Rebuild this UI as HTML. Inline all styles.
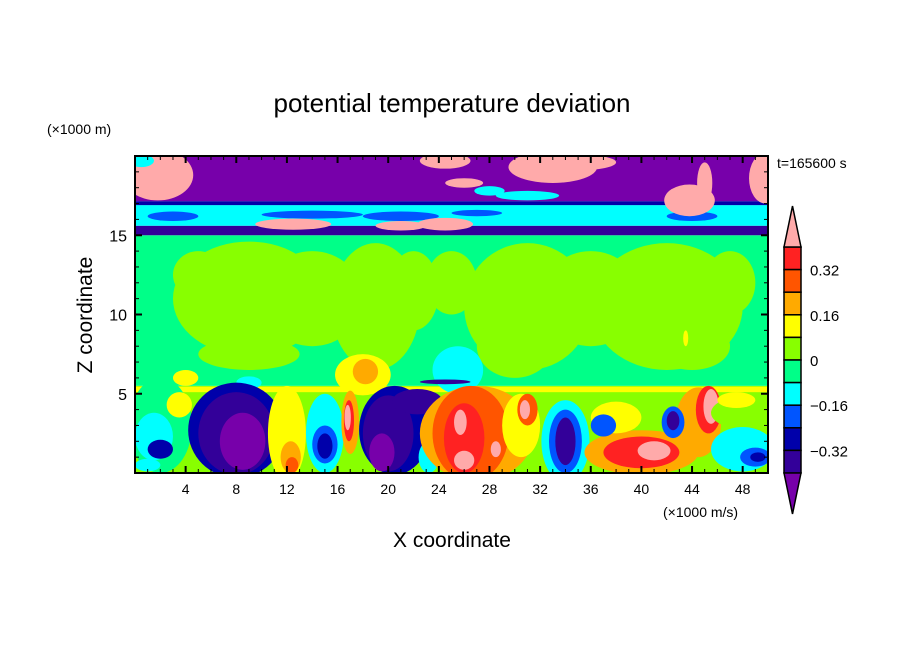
<!DOCTYPE html>
<html><head><meta charset="utf-8"><style>
body{margin:0;background:#fff;}
svg{display:block;font-family:"Liberation Sans",sans-serif;}
</style></head><body>
<svg id="chart" width="904" height="654" viewBox="0 0 904 654">
<defs><clipPath id="pc"><rect x="135" y="156" width="633" height="317"/></clipPath></defs>
<g id="field" clip-path="url(#pc)"></g>
<rect x="135" y="156" width="633" height="317" fill="none" stroke="#000" stroke-width="2"/>
<g id="axes"></g>
<g id="cbar"></g>
<text x="452" y="112" font-size="26" text-anchor="middle">potential temperature deviation</text>
<text x="47" y="134" font-size="14">(×1000 m)</text>
<text x="777" y="168" font-size="14">t=165600 s</text>
<text x="452" y="547" font-size="21" text-anchor="middle">X coordinate</text>
<text x="92" y="315" font-size="21" text-anchor="middle" transform="rotate(-90 92 315)">Z coordinate</text>
<text x="663" y="517" font-size="14">(×1000 m/s)</text>
</svg>
<script>
const levelColors=["#ffaaaa","#ff2222","#ff5500","#ffaa00","#ffff00","#88ff00","#00ff88","#00ffff","#0055ff","#0000aa","#330099","#7700aa"];
const cbarLabels=["0.32","0.16","0","−0.16","−0.32"];
const xTicks=[4,8,12,16,20,24,28,32,36,40,44,48];
const yTicks=[5,10,15];
// bands: [z0, z1, level]
const bands=[[0,5.5,5],[5.1,5.45,4],[5.5,15,6],[15,15.6,10],[15.6,16.9,7],[16.9,17.15,9],[17.15,20,11]];
// blobs: [cx, cz, rx, rz, level] in data units (km)
const blobs=[
[3,16.2,2,0.3,8],[14,16.3,4,0.25,8],[21,16.2,3,0.3,8],[27,16.4,2,0.2,8],[44,16.2,2,0.3,8],
[12.5,15.7,3,0.35,0],[21,15.6,2,0.3,0],[24.5,15.7,2.2,0.4,0],
[1.8,18.8,2.8,1.6,0],[0.5,19.7,1,0.4,7],[24.5,19.7,2,0.5,0],[33,19.3,3.5,1.0,0],[35,19.6,3,0.5,0],
[26,18.3,1.5,0.3,0],[28,17.8,1.2,0.3,7],[31,17.5,2.5,0.3,7],[43.8,17.2,2,1.0,0],[45,18.3,0.6,1.3,0],
[49.8,18.6,1.3,1.6,0],[34.5,16.3,2.5,0.25,7],
[9,11,6,3.6,5],[19,10.5,3.5,4,5],[31,10.5,5,4,5],[42,10.5,6,4,5],[25,12,2,2,5],[30,8,3,2,5],[44,8,3,1.5,5],[9,7.5,4,1,5],
[14,11,4,3,5],[36,11,4,3,5],[22,11.5,2,2.5,5],[5,12.5,2,1.5,5],[47,12,2,2,5],
[18,6.2,2.2,1.3,4],[18.2,6.4,1,0.8,3],[4,6,1,0.5,4],[9,5.7,1,0.4,7],[25.5,6.5,2,1.5,7],[24.5,5.75,2,0.15,10],[43.5,8.5,0.2,0.5,4],
[2,3,2.5,3,6],[1.5,2.3,1.5,1.5,7],[2,1.5,1,0.6,9],[1,0.5,1,0.4,7],[3.5,4.3,1,0.8,4],
[8,2.7,3.8,3,9],[8,2.5,3,2.6,10],[8.5,2,1.8,1.8,11],
[12,2.5,1.5,3,4],[12.3,1,0.8,1,3],[12.4,0.5,0.5,0.5,2],
[15,2.5,1.5,2.5,7],[15,1.8,1,1.2,8],[15,1.7,0.6,0.8,9],
[17,3.2,0.7,2,3],[16.9,3.3,0.4,1.3,1],[16.8,3.5,0.25,0.8,0],
[20.5,2.7,2.8,2.8,9],[20,2.5,2,2.4,10],[19.5,1.3,1,1.2,11],[22.3,4.5,2,0.8,10],
[23.2,1,0.8,1,7],
[27,2.5,4.5,3,3],[26.5,2.5,3,3,2],[26,2.2,1.6,2.2,1],[25.7,3.2,0.5,0.8,0],[26,0.8,0.8,0.6,0],[28.5,1.5,0.4,0.5,0],
[30.5,3,1.5,2,4],[31,4,0.8,1,2],[30.8,4,0.4,0.6,0],
[34,2,1.9,2.6,7],[34,2,1.3,2,8],[34,2,0.8,1.5,10],
[40,1.3,4.5,1.4,3],[40,1.3,3,1,1],[41,1.4,1.3,0.6,0],[38,3.5,2,1,4],
[44.5,3.2,1.8,2.2,3],[45.3,4,1,1.5,1],[45.5,4.2,0.6,1.1,0],[42.5,3.2,0.9,1,8],[42.5,3.3,0.5,0.6,10],[37,3,1,0.7,8],
[48,3.8,2.5,1,5],[48,1.5,2.5,1.4,7],[49,1,1.2,0.6,8],[49.2,1,0.6,0.3,9],[47.5,4.6,1.5,0.5,4]
];
const X0=135,X1=768,Y0=473,Y1=156;
const sx=v=>X0+v*(X1-X0)/50;
const sy=v=>Y0-v*(Y0-Y1)/20;
const NS="http://www.w3.org/2000/svg";
const field=document.getElementById('field');
bands.forEach(b=>{
  const r=document.createElementNS(NS,'rect');
  r.setAttribute('x',X0);r.setAttribute('width',X1-X0);
  r.setAttribute('y',sy(b[1]));r.setAttribute('height',sy(b[0])-sy(b[1]));
  r.setAttribute('fill',levelColors[b[2]]);
  
  
  field.appendChild(r);
});
blobs.forEach(b=>{
  const e=document.createElementNS(NS,'ellipse');
  e.setAttribute('cx',sx(b[0]));e.setAttribute('cy',sy(b[1]));
  e.setAttribute('rx',b[2]*(X1-X0)/50);e.setAttribute('ry',b[3]*(Y0-Y1)/20);
  e.setAttribute('fill',levelColors[b[4]]);
  
  
  field.appendChild(e);
});
const axes=document.getElementById('axes');
function line(x1,y1,x2,y2,w){const l=document.createElementNS(NS,'line');l.setAttribute('x1',x1);l.setAttribute('y1',y1);l.setAttribute('x2',x2);l.setAttribute('y2',y2);l.setAttribute('stroke','#000');l.setAttribute('stroke-width',w);return l;}
function txt(x,y,s,anchor,size){const t=document.createElementNS(NS,'text');t.setAttribute('x',x);t.setAttribute('y',y);t.setAttribute('font-size',size);t.setAttribute('text-anchor',anchor);t.textContent=s;return t;}
for(let v=1;v<50;v++){
  const major=v%4===0,h=major?7:4;
  const a=line(sx(v),Y0,sx(v),Y0-h,major?2:1);axes.appendChild(a);
  const b=line(sx(v),Y1,sx(v),Y1+h,major?2:1);axes.appendChild(b);
}
for(let v=1;v<20;v++){
  const major=v%5===0,h=major?7:4;
  const a=line(X0,sy(v),X0+h,sy(v),major?2:1);axes.appendChild(a);
  const b=line(X1,sy(v),X1-h,sy(v),major?2:1);axes.appendChild(b);
}
xTicks.forEach(v=>{const t=txt(sx(v),494,v,'middle',14);axes.appendChild(t);});
yTicks.forEach(v=>{const t=txt(127,sy(v)+6,v,'end',16);axes.appendChild(t);});
const cb=document.getElementById('cbar');
const cx0=784,cx1=801,ctop=247,cbot=473,n=10,bh=(cbot-ctop)/n;
for(let i=0;i<n;i++){
  const r=document.createElementNS(NS,'rect');
  r.setAttribute('x',cx0);r.setAttribute('y',ctop+i*bh);r.setAttribute('width',cx1-cx0);r.setAttribute('height',bh);
  r.setAttribute('fill',levelColors[i+1]);r.setAttribute('stroke','#000');r.setAttribute('stroke-width','1.5');
  
  
  cb.appendChild(r);
}
const up=document.createElementNS(NS,'polygon');
up.setAttribute('points',`${cx0},${ctop} ${cx1},${ctop} ${(cx0+cx1)/2},206`);
up.setAttribute('fill',levelColors[0]);up.setAttribute('stroke','#000');up.setAttribute('stroke-width','1.5');


cb.appendChild(up);
const dn=document.createElementNS(NS,'polygon');
dn.setAttribute('points',`${cx0},${cbot} ${cx1},${cbot} ${(cx0+cx1)/2},514`);
dn.setAttribute('fill',levelColors[11]);dn.setAttribute('stroke','#000');dn.setAttribute('stroke-width','1.5');


cb.appendChild(dn);
cbarLabels.forEach((s,i)=>{const t=txt(810,ctop+bh*(1+2*i)+6,s,'start',15);cb.appendChild(t);});
</script>
</body></html>
